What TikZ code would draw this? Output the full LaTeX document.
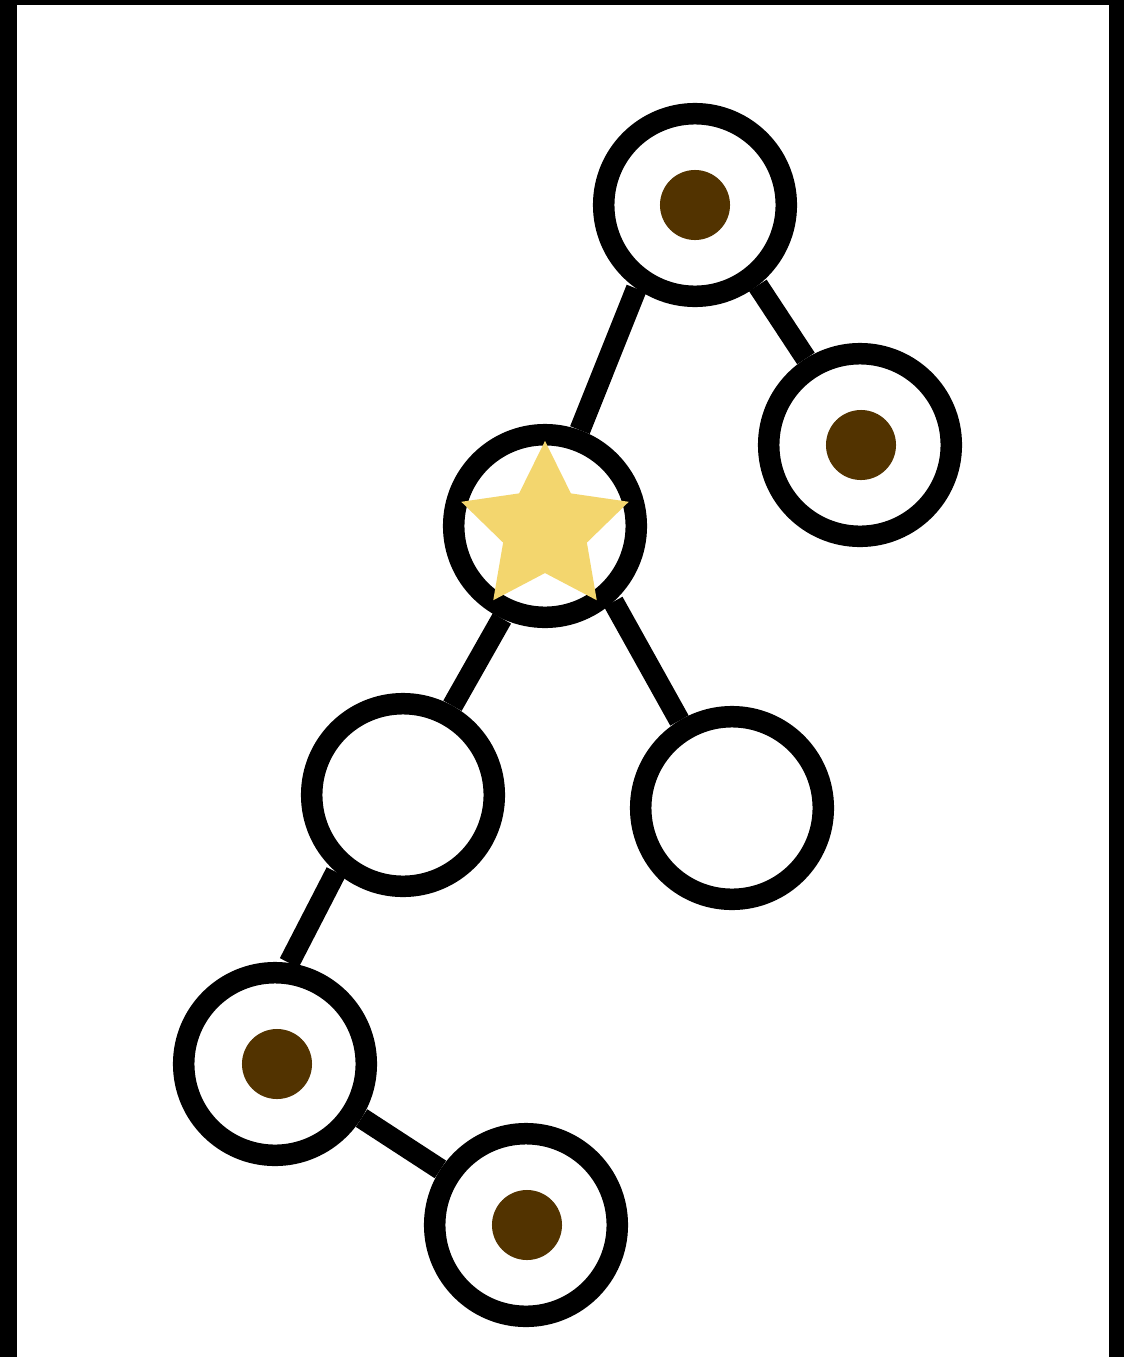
\documentclass[tikz,border=0pt]{standalone}
\usetikzlibrary{shapes.geometric}
\definecolor{dotbrown}{RGB}{82,51,0}
\definecolor{staryellow}{RGB}{243,214,110}
\tikzset{
  ring/.style={circle, draw=black, fill=white, line width=0.215cm, inner sep=0pt, outer sep=0.1075cm, minimum size=1.825cm},
  kern/.style={circle, fill=dotbrown, inner sep=0pt, minimum size=0.70cm},
  goldstar/.style={star, star points=5, star point ratio=2, fill=staryellow, inner sep=0pt, outer sep=0pt, minimum size=1.76cm},
  edge/.style={line width=0.21cm, line cap=butt},
  frame/.style={fill=black, draw=none}
}
\begin{document}
\begin{tikzpicture}[x=0.01cm, y=-0.01cm]
\useasboundingbox (0,0) rectangle (1124,1357);
\fill[white] (0,0) rectangle (1124,1357);
% frame
\fill[frame] (0,0) rectangle (17,1357);
\fill[frame] (0,0) rectangle (1124,5);
\fill[frame] (1109,0) rectangle (1124,1357);
% nodes
\node[ring] (A) at (695,205) {};
\node[ring] (B) at (860,445) {};
\node[ring] (C) at (545,526) {};
\node[ring] (D) at (403,795) {};
\node[ring] (E) at (732,808) {};
\node[ring] (F) at (275,1064) {};
\node[ring] (G) at (526,1225) {};
% dots
\node[kern] (dA) at (695,205) {};
\node[kern] (dB) at (861,445) {};
\node[kern] (dF) at (277,1064) {};
\node[kern] (dG) at (527,1225) {};
% star
\node[goldstar] (sC) at (545,529) {};
% edges
\draw[edge] (A.235) -- (C.70);
\draw[edge] (A.308) -- (B.122);
\draw[edge] (C.245) -- (D.61);
\draw[edge] (C.312) -- (E.121);
\draw[edge] (D.229) -- (F.82);
\draw[edge] (F.328) -- (G.147);
\end{tikzpicture}
\end{document}
